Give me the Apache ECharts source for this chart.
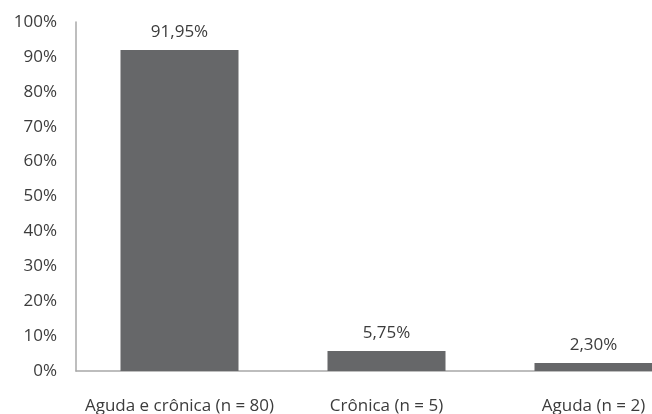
<!DOCTYPE html>
<html>
<head>
<meta charset="utf-8">
<script src="https://cdn.jsdelivr.net/npm/echarts@6/dist/echarts.min.js"></script>
<style>
  html, body { margin: 0; padding: 0; background: #fff; }
  #chart { width: 652px; height: 414px; }
</style>
</head>
<body>
<div id="chart"></div>
<script>
const categories = ['Aguda e crônica (n = 80)', 'Crônica (n = 5)', 'Aguda (n = 2)'];
const percentages = [91.95, 5.75, 2.30];

const chart = echarts.init(document.getElementById('chart'));
const textColor = '#3c3c3c';

chart.setOption({
  animation: false,
  textStyle: { fontFamily: 'Open Sans' },
  grid: {
    left: 76,
    top: 22,
    bottom: 43,
    right: -45,
    containLabel: false,
    outerBoundsMode: 'none'
  },
  xAxis: {
    type: 'category',
    data: categories,
    axisLine: { lineStyle: { color: '#a8a8a8', width: 1.5 } },
    axisTick: { show: false },
    axisLabel: { color: textColor, fontSize: 17, margin: 27, interval: 0 }
  },
  yAxis: {
    type: 'value',
    min: 0,
    max: 100,
    interval: 10,
    axisLine: { show: true, lineStyle: { color: '#a8a8a8', width: 1.5 } },
    axisTick: { show: false },
    splitLine: { show: false },
    axisLabel: { color: textColor, fontSize: 17, margin: 19, formatter: '{value}%' }
  },
  series: [{
    type: 'bar',
    data: percentages,
    barWidth: 118,
    itemStyle: { color: '#666769' },
    label: {
      show: true,
      position: 'top',
      distance: 9,
      color: textColor,
      fontSize: 17,
      formatter: p => p.value.toFixed(2).replace('.', ',') + '%'
    }
  }]
});
</script>
</body>
</html>
